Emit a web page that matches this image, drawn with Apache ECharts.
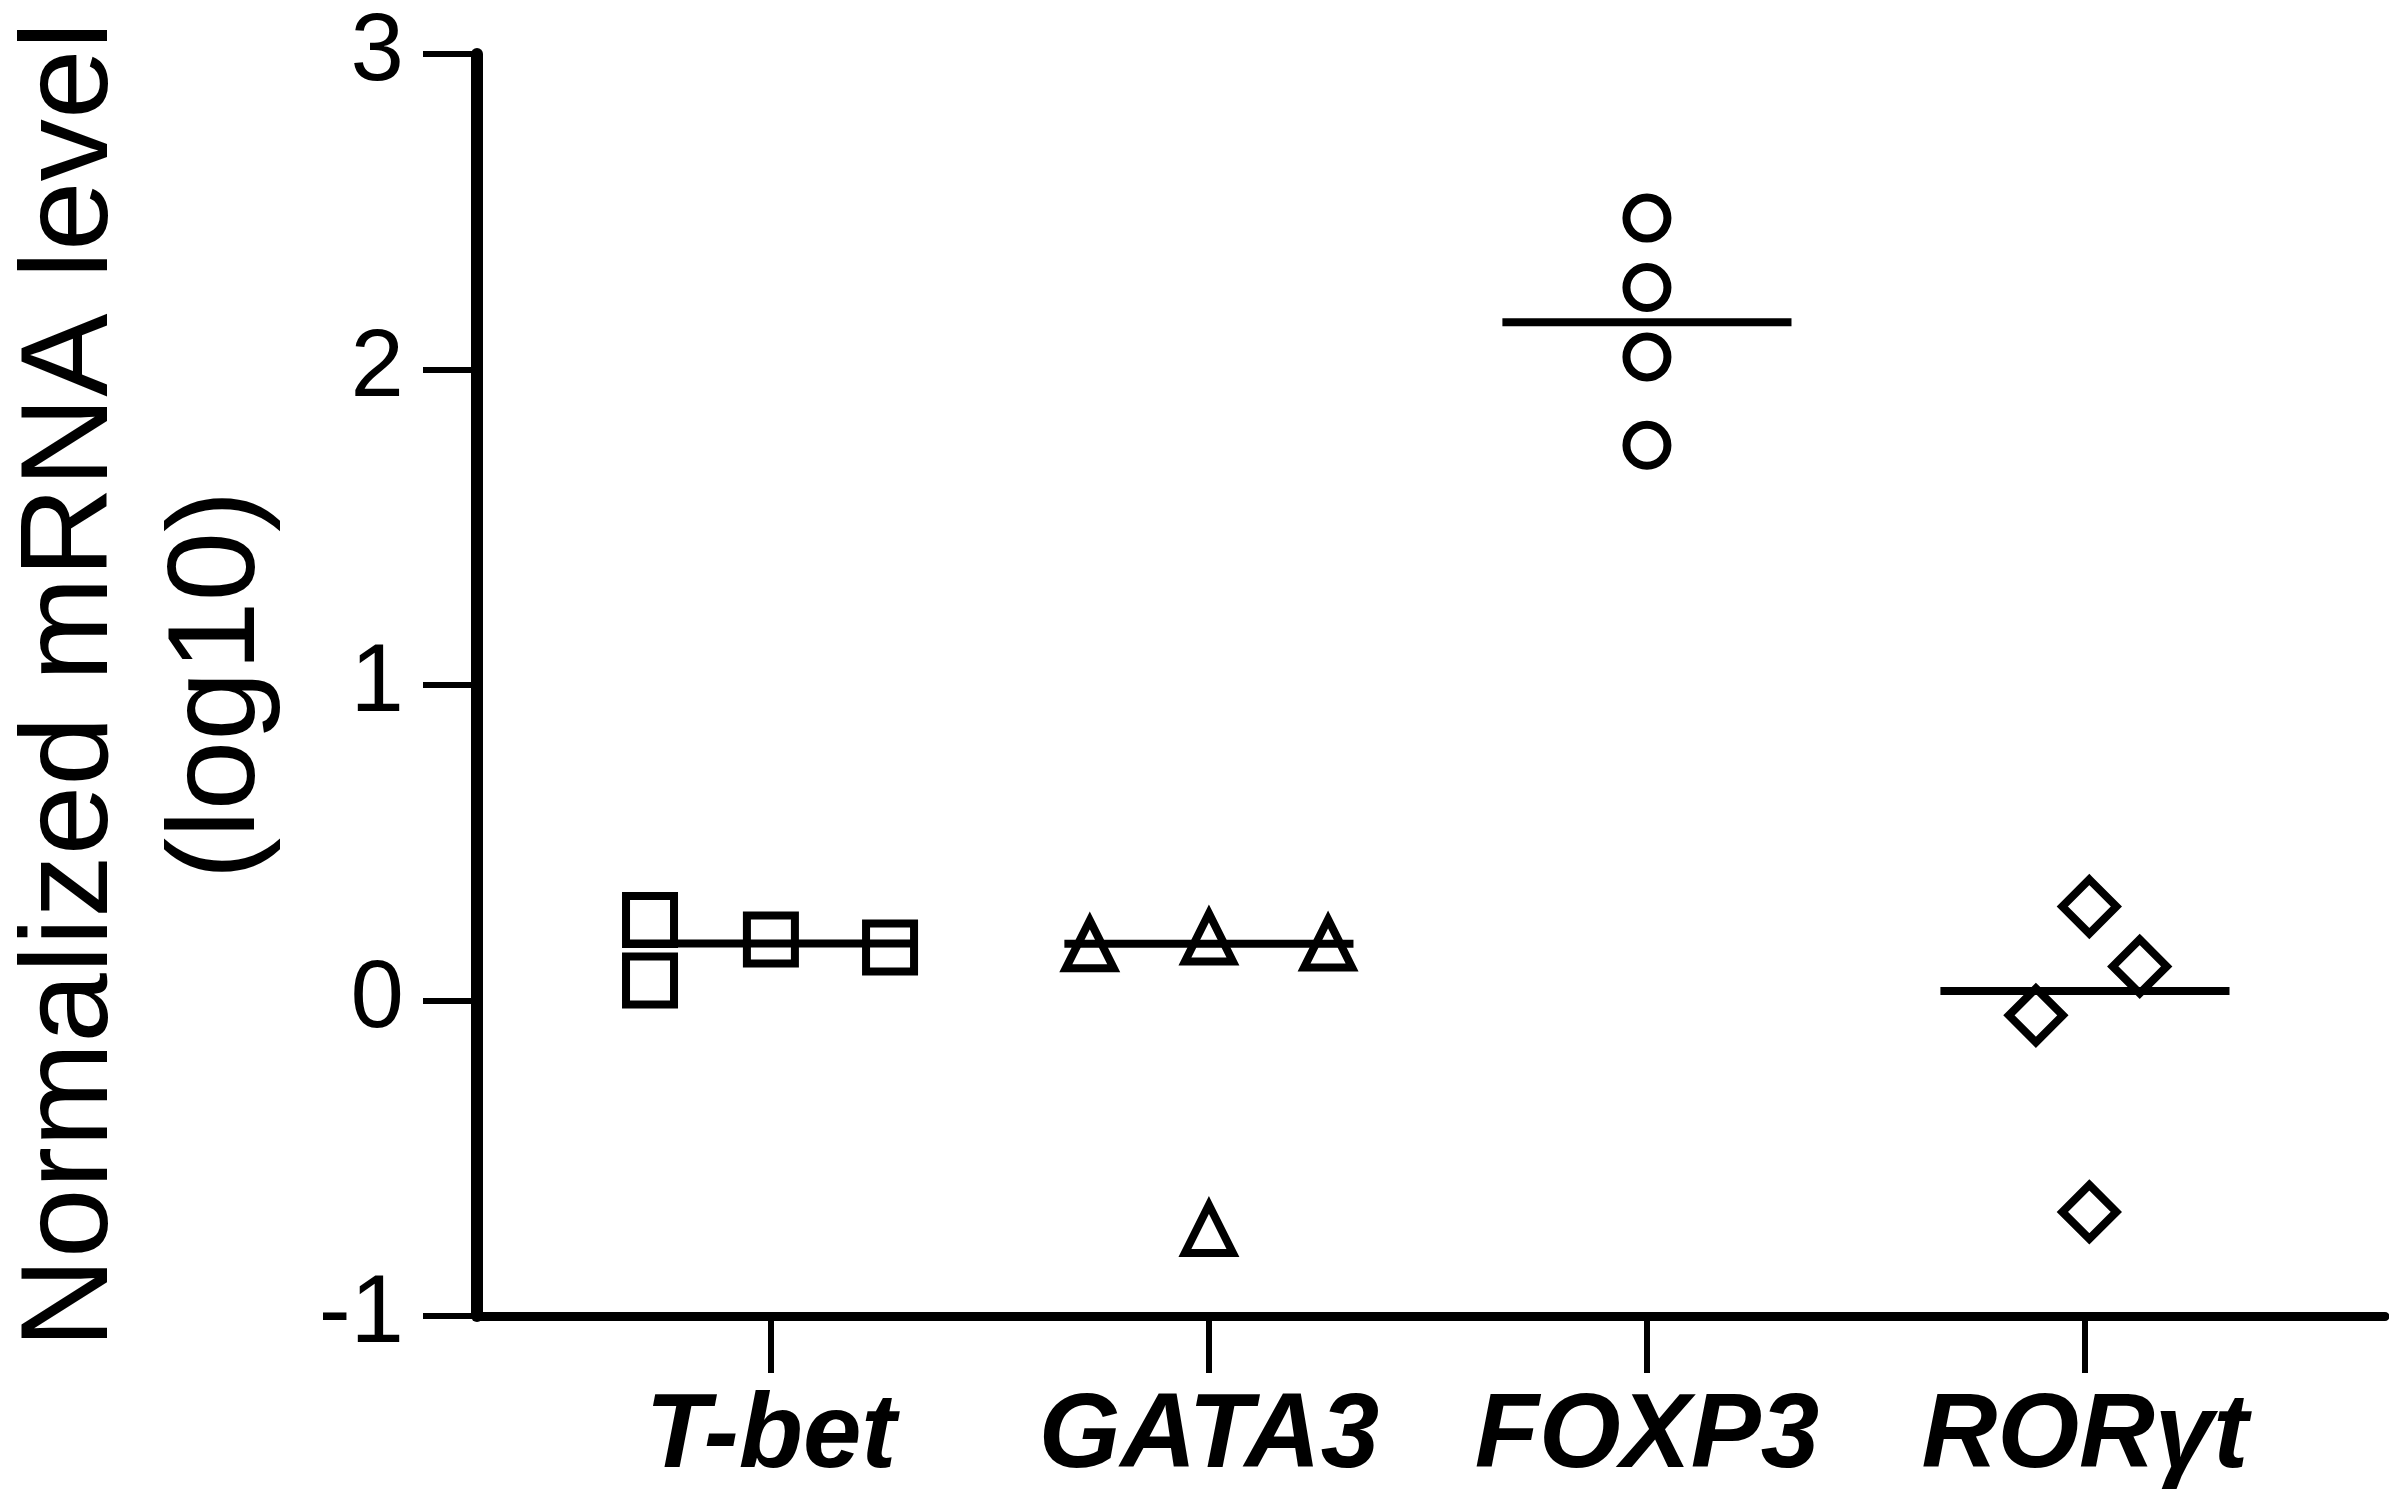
<!DOCTYPE html>
<html>
<head>
<meta charset="utf-8">
<script src="https://cdn.jsdelivr.net/npm/echarts@6/dist/echarts.min.js"></script>
<style>
html,body{margin:0;padding:0;background:#fff;}
#chart{width:2389px;height:1509px;}
</style>
</head>
<body>
<div id="chart"></div>
<script>
// ---- data ----
const categories = ['T-bet', 'GATA3', 'FOXP3', 'RORγt'];
const yTicks = [-1, 0, 1, 2, 3];
const tbetValues  = [0.255, 0.063, 0.193, 0.168];
const gata3Values = [0.178, 0.200, 0.181, -0.724];
const foxp3Values = [2.48, 2.26, 2.04, 1.76];
const rorgtValues = [-0.047, 0.298, 0.108, -0.670];
// horizontal jitter of each point around its category (in category units)
const tbetJitter  = [-0.276, -0.276, 0, 0.272];
const gata3Jitter = [-0.272, 0, 0.272, 0];
const foxp3Jitter = [0, 0, 0, 0];
const rorgtJitter = [-0.112, 0.01, 0.125, 0.01];

const groups = [
  {values: tbetValues,  jitter: tbetJitter,  symbol: 'rect',     size: 48},
  {values: gata3Values, jitter: gata3Jitter, symbol: 'triangle', size: 48},
  {values: foxp3Values, jitter: foxp3Jitter, symbol: 'circle',   size: 41},
  {values: rorgtValues, jitter: rorgtJitter, symbol: 'diamond',  size: 54}
];
const HALF = 0.33;
const FONT = "'Liberation Sans', Arial, Helvetica, sans-serif";

function median(a) {
  const s = a.slice().sort((x, y) => x - y);
  const m = s.length / 2;
  return s.length % 2 ? s[Math.floor(m)] : (s[m - 1] + s[m]) / 2;
}

const series = [];
groups.forEach((g, i) => {
  const cx = i + 1;
  series.push({
    type: 'scatter',
    symbol: g.symbol,
    symbolSize: g.size,
    z: 2,
    itemStyle: {color: 'rgba(255,255,255,0)', borderColor: '#000', borderWidth: 8, opacity: 1},
    data: g.values.map((v, k) => [cx + g.jitter[k], v]),
    silent: true
  });
  const med = median(g.values);
  series.push({
    type: 'line',
    symbol: 'none',
    z: 3,
    lineStyle: {color: '#000', width: 8, opacity: 1},
    data: [[cx - HALF, med], [cx + HALF, med]],
    silent: true
  });
});

const chart = echarts.init(document.getElementById('chart'), null, {renderer: 'canvas'});
chart.setOption({
  backgroundColor: '#fff',
  animation: false,
  grid: {left: 477, right: 4, top: 54, bottom: 193, containLabel: false, outerBoundsMode: 'none'},
  xAxis: {
    type: 'value',
    min: 0.329,
    max: 4.685,
    splitLine: {show: false},
    axisLine: {show: true, onZero: false, lineStyle: {color: '#000', width: 9}},
    axisTick: {show: true, inside: false, length: 57, customValues: [1, 2, 3, 4],
               lineStyle: {color: '#000', width: 6}},
    axisLabel: {
      customValues: [1, 2, 3, 4],
      margin: 70,
      formatter: v => categories[Math.round(v) - 1] || '',
      fontFamily: FONT, fontSize: 105, fontWeight: 'bold', fontStyle: 'italic', color: '#000'
    }
  },
  yAxis: {
    type: 'value',
    min: yTicks[0],
    max: yTicks[yTicks.length - 1],
    interval: 1,
    splitLine: {show: false},
    axisLine: {show: true, lineStyle: {color: '#000', width: 12}},
    axisTick: {show: true, inside: false, length: 54, lineStyle: {color: '#000', width: 6}},
    axisLabel: {margin: 73, fontFamily: FONT, fontSize: 96, color: '#000'},
    name: 'Normalized mRNA level\n(log10)',
    nameLocation: 'middle',
    nameRotate: 90,
    nameGap: 184,
    nameTextStyle: {fontFamily: FONT, fontSize: 125, lineHeight: 147, color: '#000', align: 'center'}
  },
  series: series
});
</script>
</body>
</html>
